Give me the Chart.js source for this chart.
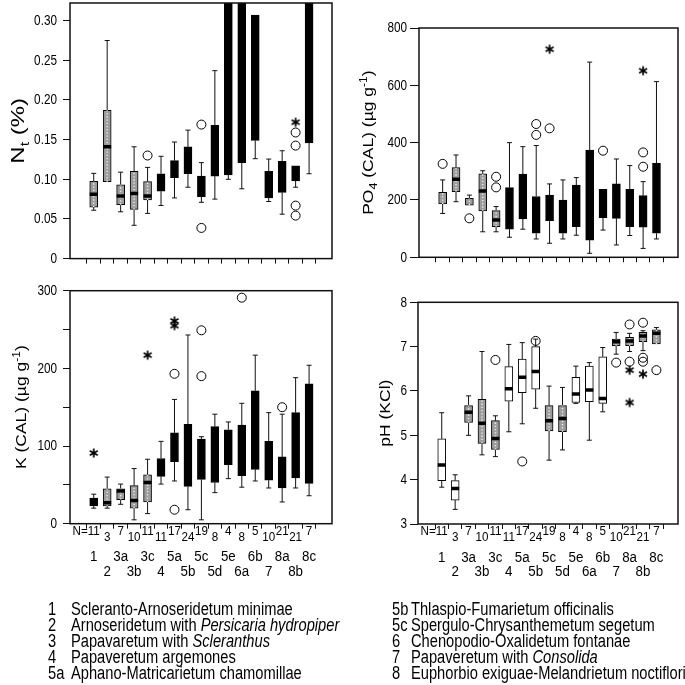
<!DOCTYPE html>
<html><head><meta charset="utf-8">
<script src="https://cdn.jsdelivr.net/npm/chart.js@4.4.1/dist/chart.umd.min.js"></script>
<style>
html,body{margin:0;padding:0;background:#fff;}
#wrap{position:relative;width:685px;height:685px;overflow:hidden;background:#fff;}
#wrap canvas{position:absolute;left:0;top:0;}
.lg{position:absolute;white-space:nowrap;color:#000;font-family:"Liberation Sans",Arial,sans-serif;font-size:18px;line-height:16px;transform:scaleX(0.815);transform-origin:0 50%;}
</style></head>
<body><div id="wrap">
<canvas id="c1" width="685" height="685"></canvas>
<canvas id="c2" width="685" height="685"></canvas>
<canvas id="c3" width="685" height="685"></canvas>
<canvas id="c4" width="685" height="685"></canvas>
</div>
<script>
// ---------------- DATA ----------------
const categories = ['1','2','3a','3b','3c','4','5a','5b','5c','5d','5e','6a','6b','7','8a','8b','8c'];
const sampleN    = [11,3,7,10,11,11,17,24,19,8,4,8,5,10,21,21,7];

// Nt (%)
const ntLow  = [0.061,null,0.059,0.042,0.057,0.067,0.0765,0.090,0.071,0.075,0.100,0.088,0.126,0.072,0.056,0.090,0.107];
const ntQ1   = [0.065,0.097,0.068,0.062,0.074,0.085,0.102,0.107,0.078,0.104,0.1055,0.121,0.149,0.0765,0.0835,0.098,0.146];
const ntMed  = [0.081,0.141,0.079,0.082,0.079,null,null,null,null,null,null,null,null,null,null,null,null];
const ntQ3   = [0.0975,0.187,0.093,0.110,0.097,0.107,0.1235,0.141,0.104,0.168,0.40,0.40,0.307,0.110,0.1225,0.117,0.40];
const ntHigh = [0.1075,0.275,0.109,0.141,0.115,0.129,0.147,0.162,0.121,0.237,null,null,null,0.1255,0.136,null,null];
const ntCircles = [['3c',0.130],['5c',0.169],['5c',0.0387],['8b',0.159],['8b',0.1425],['8b',0.0668],['8b',0.0542]];
const ntStars   = [['8b',0.172]];

// PO4 (CAL)
const poLow  = [153,194,null,89,89,70,98,64,49,64,77,14,95,43,76,31,64];
const poQ1   = [186,229,182,162,107,98,134,84,128,84,107,60,138,136,107,105,84];
const poMed  = [null,272,null,231,130,null,null,null,null,null,null,null,null,null,null,null,null];
const poQ3   = [227,313,206,291,163,243,290,212,217,200,252,374,237,256,237,215,328];
const poHigh = [270,357,217,302,177,400,386,390,256,270,278,681,null,343,320,264,613];
const poCircles = [['1',326],['3a',136],['3c',281],['3c',244],['5b',465],['5b',427],['5c',450],['6b',372],['8b',366],['8b',316]];
const poStars   = [['5c',726],['8b',651]];

// K (CAL)
const kLow  = [20,20,25,5,13,51,55,18,5,40,58,47,55,46,28,46,36];
const kQ1   = [23,23,31,20,28,61,80,48,57,53,76,62,70,56,46,59,52];
const kMed  = [null,27,42,30,53,null,null,null,null,null,null,null,null,null,null,null,null];
const kQ3   = [33,45,45,49,63,84,117,128,109,125,121,127,171,106,86,143,180];
const kHigh = [38,60,51,71,83,106,160,243,112,141,131,155,217,143,141,188,204];
const kCircles = [['5a',193],['5a',18],['5c',249],['5c',190],['6a',291],['8a',150]];
const kStars   = [['1',91],['3c',217],['5a',261],['5a',255]];

// pH (KCl)
const phLow  = [3.83,3.33,5.00,4.56,4.52,5.08,5.26,5.61,4.44,4.67,5.72,4.89,5.53,6.83,6.89,6.91,null];
const phQ1   = [3.98,3.54,5.29,4.82,4.68,5.77,5.96,6.04,5.10,5.08,5.74,5.76,5.72,7.02,7.02,7.11,7.06];
const phMed  = [4.33,3.80,5.52,5.27,4.93,6.05,6.31,6.44,5.33,5.38,5.93,6.02,5.83,7.11,7.13,7.24,7.30];
const phQ3   = [4.92,3.98,5.67,5.81,5.33,6.55,6.72,7.00,5.67,5.67,6.31,6.56,6.77,7.17,7.21,7.32,7.38];
const phHigh = [5.51,4.11,5.89,6.89,5.44,7.05,7.09,7.17,6.11,6.08,6.56,6.64,6.98,7.32,7.30,7.36,7.43];
const phCircles = [['3c',6.70],['5a',4.41],['5b',7.13],['7',6.64],['8a',7.50],['8a',6.66],['8b',7.54],['8b',6.75],['8b',6.66],['8c',6.47]];
const phStars   = [['8a',6.47],['8a',5.74],['8b',6.38]];

const ntTicks = [0,0.05,0.10,0.15,0.20,0.25,0.30];
const poTicks = [0,200,400,600,800];
const kTicks  = [0,50,100,150,200,250,300];
const phTicks = [3,4,5,6,7,8];

const legendLeft  = [['1','Scleranto-Arnoseridetum minimae',''],['2','Arnoseridetum with ','Persicaria hydropiper'],['3','Papavaretum with ','Scleranthus'],['4','Papaveretum argemones',''],['5a','Aphano-Matricarietum chamomillae','']];
const legendRight = [['5b','Thlaspio-Fumarietum officinalis',''],['5c','Spergulo-Chrysanthemetum segetum',''],['6','Chenopodio-Oxalidetum fontanae',''],['7','Papaveretum with ','Consolida'],['8','Euphorbio exiguae-Melandrietum noctiflori','']];

// ---------------- STYLE ----------------
const SANS = '"Liberation Sans",Arial,sans-serif';
const FILL = {g:'#9c9c9c', b:'#000000', w:'#ffffff'};
const shadeNt = ['g','g','g','g','g','b','b','b','b','b','b','b','b','b','b','b','b'];
const shadePo = shadeNt;
const shadeK  = ['b','g','g','g','g','b','b','b','b','b','b','b','b','b','b','b','b'];
const shadePh = ['w','w','g','g','g','w','w','w','g','g','w','w','w','g','g','g','g'];

function makeStar(){
  const s=12, c=document.createElement('canvas'); c.width=s; c.height=s;
  const g=c.getContext('2d'); g.strokeStyle='#000'; g.lineWidth=1.7;
  const r=4.6;
  for (const a of [90,30,150]) { const t=a*Math.PI/180;
    g.beginPath(); g.moveTo(s/2-r*Math.cos(t), s/2-r*Math.sin(t)); g.lineTo(s/2+r*Math.cos(t), s/2+r*Math.sin(t)); g.stroke(); }
  return c;
}
const STAR = makeStar();

function sqText(ctx, text, x, y, align, sq){
  ctx.save(); ctx.translate(x, y); ctx.scale(sq, 1); ctx.textAlign=align; ctx.fillText(text, 0, 0); ctx.restore();
}

function drawRich(ctx, runs, cx, cy, squash){
  ctx.save(); ctx.translate(cx, cy); ctx.rotate(-Math.PI/2); ctx.scale(1, squash);
  let total=0;
  runs.forEach(r=>{ ctx.font = r.size+'px '+SANS; r.w = ctx.measureText(r.t).width; total += r.w; });
  let x=-total/2; const base = runs[0].size*0.36;
  ctx.fillStyle='#000'; ctx.textBaseline='alphabetic'; ctx.textAlign='left';
  runs.forEach(r=>{ ctx.font = r.size+'px '+SANS; ctx.fillText(r.t, x, base + (r.dy||0)); x += r.w; });
  ctx.restore();
}

function panel(id, p){
  const idx = c => categories.indexOf(c) + 1;
  const wh=[], dots=[], caps=[], meds=[];
  categories.forEach((c,i)=>{
    const x=i+1;
    if (p.low[i]!=null){ wh.push({x,y:p.low[i]},{x,y:p.q1[i]},{x,y:null}); caps.push({x,y:p.low[i]}); }
    if (p.high[i]!=null){ wh.push({x,y:p.q3[i]},{x,y:p.high[i]},{x,y:null}); caps.push({x,y:p.high[i]}); }
    if (p.shade[i]==='g'){ dots.push({x,y:p.q1[i]},{x,y:p.q3[i]},{x,y:null}); }
    if (p.med[i]!=null && p.shade[i]!=='b'){ meds.push({x,y:p.med[i]}); }
  });
  const A = p.area, xH = 10;
  const frame = {
    id:'frame'+id,
    afterDraw(chart){
      const ctx=chart.ctx, a=chart.chartArea, ys=chart.scales.y;
      ctx.save(); ctx.strokeStyle='#111'; ctx.lineWidth=1.5;
      ctx.strokeRect(a.left, a.top, a.right-a.left, a.bottom-a.top);
      drawRich(ctx, p.title, p.titleX, (a.top+a.bottom)/2, p.titleSq);
      ctx.fillStyle='#000'; ctx.textBaseline='middle'; ctx.font='14px '+SANS;
      p.yticks.forEach(v=>{ const s=p.yfmt(v); if (s) sqText(ctx, s, a.left-p.tickLen-p.tickPad, ys.getPixelForValue(v)+0.5, 'right', 0.84); });
      if (p.bottom){
        const xs=chart.scales.x, b=a.bottom;
        ctx.fillStyle='#000';
        ctx.font='13.5px '+SANS;
        sampleN.forEach((n,i)=>{
          const x=xs.getPixelForValue(i+1), y=b+(i%2===0?7.5:13.5);
          sqText(ctx, String(n), x, y, 'center', 0.86);
          if (i===0){ const w=ctx.measureText(String(n)).width*0.86; sqText(ctx, 'N=', x-w/2, y, 'right', 0.86); }
        });
        ctx.font='15.5px '+SANS;
        categories.forEach((c,i)=>{
          const x=xs.getPixelForValue(i+1), y=b+(i%2===0?33.5:48);
          sqText(ctx, c, x, y, 'center', 0.86);
        });
      }
      ctx.restore();
    }
  };
  new Chart(document.getElementById(id), {
    type:'bar',
    data:{ datasets:[
      { type:'bar', data: categories.map((c,i)=>({x:i+1, y:[p.q1[i], p.q3[i]]})),
        backgroundColor: p.shade.map(s=>FILL[s]), borderColor:'#000', borderWidth:1, borderSkipped:false,
        barThickness:8, grouped:false, order:3 },
      { type:'line', data: wh, borderColor:'#111', borderWidth:1, pointRadius:0, spanGaps:false, fill:false, order:4 },
      { type:'line', data: dots, borderColor:'#eeeeee', borderWidth:1.4, borderDash:[1.3,1.9], pointRadius:0, spanGaps:false, fill:false, order:1 },
      { type:'scatter', data: caps, pointStyle:'line', pointRadius:2.5, pointBorderWidth:1, borderWidth:1, pointBorderColor:'#111', borderColor:'#111', order:2 },
      { type:'scatter', data: meds, pointStyle:'line', pointRadius:4, pointBorderWidth:3.5, borderWidth:3.5, pointBorderColor:'#000', borderColor:'#000', order:0 },
      { type:'scatter', data: p.circles.map(([c,v])=>({x:idx(c), y:v})), pointStyle:'circle', pointRadius:4.5, pointBorderWidth:1, borderWidth:1,
        pointBorderColor:'#000', borderColor:'#000', pointBackgroundColor:'rgba(0,0,0,0)', backgroundColor:'rgba(0,0,0,0)', order:0 },
      { type:'scatter', data: p.stars.map(([c,v])=>({x:idx(c), y:v})), pointStyle:STAR, pointRadius:5, order:0 }
    ]},
    options:{
      responsive:false, animation:false, events:[],
      layout:{ autoPadding:false, padding:{left:0, top:A.T, right:685-A.R, bottom:685-A.B-xH} },
      plugins:{ legend:{display:false}, tooltip:{enabled:false} },
      scales:{
        x:{ type:'linear', min:p.xmin, max:p.xmax,
            afterBuildTicks:s=>{ s.ticks = categories.map((c,i)=>({value:i+1})); },
            afterFit:s=>{ s.height=xH; s.paddingLeft=0; s.paddingRight=0; },
            ticks:{display:false}, grid:{drawOnChartArea:false, drawTicks:true, tickLength:5, color:'#111', lineWidth:1}, border:{display:false} },
        y:{ type:'linear', min:p.ymin, max:p.ymax,
            afterBuildTicks:s=>{ s.ticks = p.yticks.map(v=>({value:v})); },
            afterFit:s=>{ s.width=A.L; s.paddingTop=0; s.paddingBottom=0; },
            ticks:{ display:false },
            grid:{drawOnChartArea:false, drawTicks:true, tickLength:p.tickLen, color:'#111', lineWidth:1}, border:{display:false} }
      }
    },
    plugins:[frame]
  });
}

panel('c1', { low:ntLow, q1:ntQ1, med:ntMed, q3:ntQ3, high:ntHigh, circles:ntCircles, stars:ntStars, shade:shadeNt,
  area:{L:70,R:332,T:3,B:258.6}, xmin:-0.19, xmax:18.13, ymin:0, ymax:0.3223, yticks:ntTicks,
  yfmt:v=> v===0?'0':v.toFixed(2), tickLen:7, tickPad:6, titleX:17, titleSq:0.8, bottom:false,
  title:[{t:'N',size:24},{t:'t',size:16,dy:6},{t:' (%)',size:24}] });
panel('c2', { low:poLow, q1:poQ1, med:poMed, q3:poQ3, high:poHigh, circles:poCircles, stars:poStars, shade:shadePo,
  area:{L:419,R:678,T:28,B:257.3}, xmin:-0.2, xmax:18.04, ymin:0, ymax:800, yticks:poTicks,
  yfmt:v=>String(v), tickLen:9, tickPad:3, titleX:368, titleSq:0.86, bottom:false,
  title:[{t:'PO',size:17.5},{t:'4',size:12.5,dy:4.5},{t:' (CAL) (µg g',size:17.5},{t:'-1',size:12,dy:-8},{t:')',size:17.5}] });
panel('c3', { low:kLow, q1:kQ1, med:kMed, q3:kQ3, high:kHigh, circles:kCircles, stars:kStars, shade:shadeK,
  area:{L:70,R:332,T:290.7,B:523.7}, xmin:-0.19, xmax:18.13, ymin:0, ymax:300, yticks:kTicks,
  yfmt:v=> v%100===0?String(v):'', tickLen:7, tickPad:6, titleX:21, titleSq:0.86, bottom:true,
  title:[{t:'K (CAL) (µg g',size:17.5},{t:'-1',size:12,dy:-8},{t:')',size:17.5}] });
panel('c4', { low:phLow, q1:phQ1, med:phMed, q3:phQ3, high:phHigh, circles:phCircles, stars:phStars, shade:shadePh,
  area:{L:418,R:678,T:302.3,B:524}, xmin:-0.2, xmax:18.04, ymin:3, ymax:8, yticks:phTicks,
  yfmt:v=>String(v), tickLen:8, tickPad:3, titleX:385, titleSq:0.86, bottom:true,
  title:[{t:'pH (KCl)',size:17.5}] });

// legend text
function legendCol(rows, xCode, xName, y0){
  const wrap=document.getElementById('wrap');
  rows.forEach((r,i)=>{
    const y=y0+i*16-8;
    const a=document.createElement('div'); a.className='lg'; a.style.left=xCode+'px'; a.style.top=y+'px'; a.textContent=r[0]; wrap.appendChild(a);
    const b=document.createElement('div'); b.className='lg'; b.style.left=xName+'px'; b.style.top=y+'px';
    b.appendChild(document.createTextNode(r[1]));
    if (r[2]){ const it=document.createElement('i'); it.textContent=r[2]; b.appendChild(it); }
    wrap.appendChild(b);
  });
}
legendCol(legendLeft, 48, 70.5, 609);
legendCol(legendRight, 391.5, 411, 609);
</script>
</body></html>
